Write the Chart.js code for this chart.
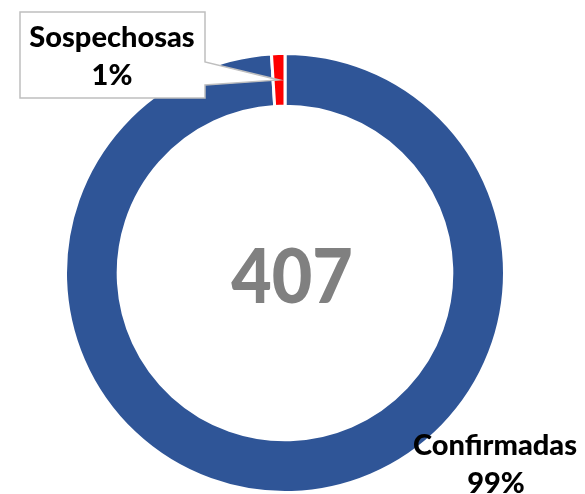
<!DOCTYPE html>
<html>
<head>
<meta charset="utf-8">
<script src="https://cdn.jsdelivr.net/npm/chart.js@4/dist/chart.umd.min.js"></script>
<style>
  html, body { margin: 0; padding: 0; background: #fff; }
  #wrap { width: 585px; height: 494px; position: relative; }
</style>
</head>
<body>
<div id="wrap"><canvas id="chart"></canvas></div>
<script>
  // data
  var categories = ['Confirmadas', 'Sospechosas'];
  var cases = [403, 4];
  var percentLabels = ['99%', '1%'];
  var totalLabel = '407';
  var colors = ['#2F5597', '#FF0000'];

  var FONT = 'Lato, "Open Sans", sans-serif';

  // center number + the two data labels
  var labelPlugin = {
    id: 'labels',
    afterDatasetsDraw: function (chart) {
      var ctx = chart.ctx;
      var arcs = chart.getDatasetMeta(0).data;
      var cx = arcs[0].x, cy = arcs[0].y;

      ctx.save();
      ctx.textAlign = 'center';
      ctx.textBaseline = 'alphabetic';

      // total in the hole, a bit narrower like Calibri
      ctx.save();
      ctx.translate(cx + 7, cy + 30);
      ctx.scale(0.92, 1);
      ctx.fillStyle = '#808080';
      ctx.font = '900 76px ' + FONT;
      ctx.fillText(totalLabel, 0, 0);
      ctx.restore();

      // callout for the small slice
      var tip = arcs[1].getCenterPoint();
      ctx.beginPath();
      ctx.moveTo(20, 12);
      ctx.lineTo(205, 12);
      ctx.lineTo(205, 62);
      ctx.lineTo(tip.x, tip.y);
      ctx.lineTo(205, 85);
      ctx.lineTo(205, 98);
      ctx.lineTo(20, 98);
      ctx.closePath();
      ctx.fillStyle = '#fff';
      ctx.fill();
      ctx.strokeStyle = '#BFBFBF';
      ctx.lineWidth = 1.5;
      ctx.stroke();

      ctx.fillStyle = '#000';
      ctx.font = '900 29px ' + FONT;
      ctx.fillText(categories[1], 112, 47);
      ctx.fillText(percentLabels[1], 112, 85);

      ctx.fillText(categories[0], 495, 455);
      ctx.fillText(percentLabels[0], 496, 493);
      ctx.restore();
    }
  };

  new Chart(document.getElementById('chart'), {
    type: 'doughnut',
    data: {
      labels: categories,
      datasets: [{
        data: cases,
        backgroundColor: colors,
        borderColor: '#fff',
        borderWidth: 3
      }]
    },
    options: {
      responsive: true,
      maintainAspectRatio: false,
      animation: false,
      cutout: '76%',
      layout: { padding: { left: 64, right: 79, top: 52, bottom: 0 } },
      plugins: { legend: { display: false }, tooltip: { enabled: false } }
    },
    plugins: [labelPlugin]
  });
</script>
</body>
</html>
